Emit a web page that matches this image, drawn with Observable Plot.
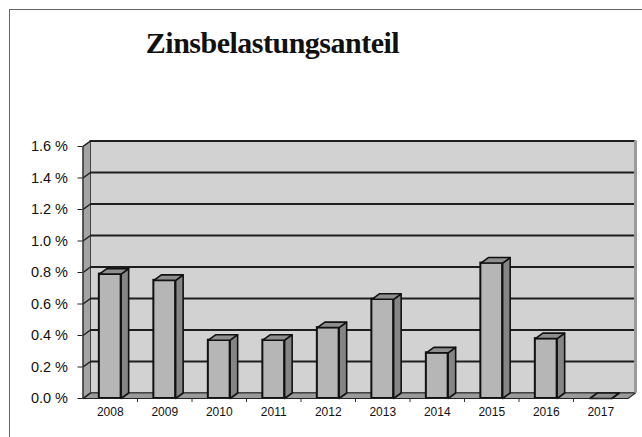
<!DOCTYPE html>
<html>
<head>
<meta charset="utf-8">
<script src="https://cdn.jsdelivr.net/npm/d3@7"></script>
<script src="https://cdn.jsdelivr.net/npm/@observablehq/plot@0.6"></script>
<style>
  html, body { margin: 0; padding: 0; background: #fff; }
  #wrap { position: relative; width: 642px; height: 437px; overflow: hidden; }
  #frame { position: absolute; left: 9px; top: 9px; width: 640px; height: 440px; border: 1.5px solid #666; box-sizing: border-box; }
  #title { position: absolute; left: 0; width: 545px; top: 28px; line-height: 30px; text-align: center;
           font-family: "Liberation Serif", serif; font-weight: bold; font-size: 30px; letter-spacing: -0.5px; color: #111; }
  #chart { position: absolute; left: 0; top: 0; }
</style>
</head>
<body>
<div id="wrap">
  <div id="frame"></div>
  <div id="title">Zinsbelastungsanteil</div>
  <div id="chart"></div>
</div>
<script>
const years = [2008, 2009, 2010, 2011, 2012, 2013, 2014, 2015, 2016, 2017];
const shares = [0.79, 0.75, 0.37, 0.37, 0.45, 0.63, 0.29, 0.86, 0.38, 0.0];
const yTicks = [0, 0.2, 0.4, 0.6, 0.8, 1.0, 1.2, 1.4, 1.6];

const W = 642, H = 437;
const mL = 82.5, mR = 14.5, mT = 146, mB = 39;
const xDom = [years[0] - 0.5, years[years.length - 1] + 0.5];
const yDom = [0, 1.6];
// 3D depth (pixel) converted to data units
const depthPx = [7.5, 5.5];
const ddx = depthPx[0] * (xDom[1] - xDom[0]) / (W - mL - mR);
const ddy = depthPx[1] * (yDom[1] - yDom[0]) / (H - mT - mB);
const half = 0.2;

const data = years.map((year, i) => ({year, v: shares[i]}));

const poly = (key, pts) => pts.map(([x, y]) => ({key, x, y}));
const [x0, x1] = xDom;
const leftWall = poly("lw", [[x0, 0], [x0, 1.6], [x0 + ddx, 1.6 + ddy], [x0 + ddx, ddy]]);
const floor = poly("fl", [[x0, 0], [x1, 0], [x1 + ddx, ddy], [x0 + ddx, ddy]]);
const sides = data.flatMap(d => poly(d.year, [[d.year + half, 0], [d.year + half, d.v], [d.year + half + ddx, d.v + ddy], [d.year + half + ddx, ddy]]));
const tops = data.flatMap(d => poly(d.year, [[d.year - half, d.v], [d.year + half, d.v], [d.year + half + ddx, d.v + ddy], [d.year - half + ddx, d.v + ddy]]));
const bounds = years.slice(0, -1).map(y => y + 0.5);

const chart = Plot.plot({
  width: W, height: H,
  marginLeft: mL, marginRight: mR, marginTop: mT, marginBottom: mB,
  style: {fontFamily: "Liberation Sans, Arial, sans-serif", background: "transparent", overflow: "visible"},
  x: {domain: xDom},
  y: {domain: yDom},
  marks: [
    // back wall
    Plot.rect([0], {x1: x0 + ddx, x2: x1 + ddx, y1: ddy, y2: 1.6 + ddy, fill: "#d2d2d2", stroke: "#555", strokeWidth: 1}),
    // left wall
    Plot.line(leftWall, {x: "x", y: "y", z: "key", curve: "linear-closed", fill: "#a4a4a4", stroke: "#444", strokeWidth: 1}),
    // floor
    Plot.line(floor, {x: "x", y: "y", z: "key", curve: "linear-closed", fill: "#9a9a9a", stroke: "#333", strokeWidth: 1.2}),
    // gridlines on back wall
    Plot.ruleY(yTicks.filter(t => t > 0), {y: t => t + ddy, x1: x0 + ddx, x2: x1 + ddx, stroke: "#1e1e1e", strokeWidth: 2}),
    // gridlines on left wall
    Plot.link(yTicks, {x1: x0, y1: t => t, x2: x0 + ddx, y2: t => t + ddy, stroke: "#1e1e1e", strokeWidth: 1.5}),
    // right edge of back wall
    Plot.ruleX([x1 + ddx], {y1: ddy, y2: 1.6 + ddy, stroke: "#9a9a9a", strokeWidth: 3}),
    // front axis line
    Plot.ruleX([x0], {y1: 0, y2: 1.6, stroke: "#333", strokeWidth: 1.2}),
    // bars: front, side, top
    Plot.rect(data, {x1: d => d.year - half, x2: d => d.year + half, y1: 0, y2: "v", fill: "#b6b6b6", stroke: "#111", strokeWidth: 2}),
    Plot.line(sides, {x: "x", y: "y", z: "key", curve: "linear-closed", fill: "#858585", stroke: "#111", strokeWidth: 1.6}),
    Plot.line(tops, {x: "x", y: "y", z: "key", curve: "linear-closed", fill: "#8e8e8e", stroke: "#111", strokeWidth: 1.6}),
    // axes
    Plot.axisY(yTicks, {tickFormat: d => d.toFixed(1) + " %", tickSize: 5, tickPadding: 10, fontSize: 14.5, stroke: "#222", color: "#111", label: null}),
    Plot.axisX(years, {tickFormat: d => String(d), tickSize: 0, tickPadding: 9, fontSize: 12, color: "#111", label: null}),
    Plot.axisX(bounds, {tickFormat: () => "", tickSize: 4, stroke: "#333", label: null}),
    Plot.ruleY([0], {x1: x0, x2: x1, stroke: "#222", strokeWidth: 1.2})
  ]
});
document.getElementById("chart").appendChild(chart);
</script>
</body>
</html>
